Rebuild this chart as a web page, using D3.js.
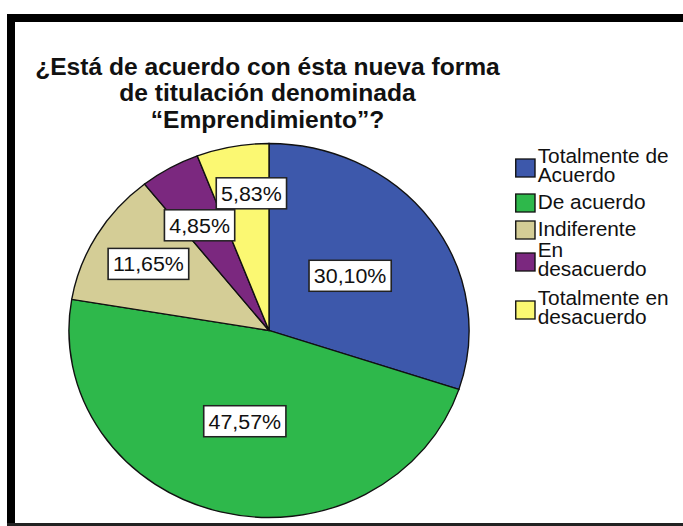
<!DOCTYPE html>
<html>
<head>
<meta charset="utf-8">
<script src="https://cdn.jsdelivr.net/npm/d3@7"></script>
<style>
  html, body { margin: 0; padding: 0; background: #fff; }
  svg { display: block; font-family: "Liberation Sans", Arial, sans-serif; }
</style>
</head>
<body>
<script>
// datos
const categories = ["Totalmente de Acuerdo", "De acuerdo", "Indiferente", "En desacuerdo", "Totalmente en desacuerdo"];
const legendLines = [["Totalmente de", "Acuerdo"], ["De acuerdo"], ["Indiferente"], ["En", "desacuerdo"], ["Totalmente en", "desacuerdo"]];
const percents = [30.10, 47.57, 11.65, 4.85, 5.83];
const colors = ["#3d58ab", "#2eb84b", "#d4cd96", "#7b287f", "#fbf872"];
const titleLines = ["¿Está de acuerdo con ésta nueva forma", "de titulación denominada", "“Emprendimiento”?"];

const width = 683;
const height = 526;
const sx = 1.07; // la imagen original está estirada en horizontal

const svg = d3.select("body")
    .append("svg")
    .attr("width", width)
    .attr("height", height);

// marco negro
svg.append("rect").attr("x", 0).attr("y", 0).attr("width", width).attr("height", height).attr("fill", "#fff");
svg.append("rect").attr("x", 7).attr("y", 14).attr("width", width).attr("height", 8).attr("fill", "#000");
svg.append("rect").attr("x", 7).attr("y", 14).attr("width", 8).attr("height", 512).attr("fill", "#000");
svg.append("rect").attr("x", 7).attr("y", 523).attr("width", width).attr("height", 3).attr("fill", "#222");

const g = svg.append("g").attr("transform", `scale(${sx},1)`);

// título
g.append("text")
    .attr("x", 250)
    .attr("text-anchor", "middle")
    .attr("font-size", 23)
    .attr("font-weight", "bold")
    .attr("fill", "#111")
    .selectAll("tspan")
    .data(titleLines)
    .enter().append("tspan")
    .attr("x", 250)
    .attr("y", (d, i) => 75 + i * 26.5)
    .text(d => d);

// tarta
const cx = 251.4, cy = 330.5, radius = 187;
const pie = d3.pie().sort(null).value(d => d.value);
const arcs = pie(categories.map((c, i) => ({ name: c, value: percents[i], color: colors[i] })));
const arc = d3.arc().innerRadius(0).outerRadius(radius);

const pieG = g.append("g").attr("transform", `translate(${cx},${cy})`);

pieG.selectAll("path")
    .data(arcs)
    .enter().append("path")
    .attr("d", arc)
    .attr("fill", d => d.data.color)
    .attr("stroke", "#111")
    .attr("stroke-width", 1.3);

// etiquetas: las porciones grandes al centro, las pequeñas más afuera
const labelArcBig = d3.arc().innerRadius(0).outerRadius(radius);
const labelArcSmall = d3.arc().innerRadius(radius * 0.7).outerRadius(radius * 0.7);
const fmt = v => v.toFixed(2).replace(".", ",") + "%";

const boxH = 31;
const labels = arcs.map(d => {
    const p = d.data.value > 20 ? labelArcBig.centroid(d) : labelArcSmall.centroid(d);
    return { d, x: p[0], y: p[1], text: fmt(d.data.value) };
});

const labelG = pieG.selectAll(".label")
    .data(labels)
    .enter().append("g")
    .attr("class", "label");

labelG.append("text")
    .attr("text-anchor", "middle")
    .attr("font-size", 20)
    .attr("fill", "#111")
    .text(d => d.text);

labelG.each(function (d) {
    d.w = this.querySelector("text").getComputedTextLength() + 9;
});

// separar etiquetas que se pisan (la de abajo baja, la de arriba sube y se corre a la derecha)
for (let k = 0; k < 20; k++) {
    for (let i = 0; i < labels.length; i++) {
        for (let j = i + 1; j < labels.length; j++) {
            const a = labels[i], b = labels[j];
            const ox = (a.w + b.w) / 2 - Math.abs(a.x - b.x);
            const oy = boxH - Math.abs(a.y - b.y);
            if (ox > 0 && oy > 0) {
                const s = a.y < b.y ? -1 : 1;
                a.y += s * (oy / 2 + 0.5);
                b.y -= s * (oy / 2 + 0.5);
                const upper = a.y < b.y ? a : b;
                upper.x += ox * 0.3;
            }
        }
    }
}

labelG.attr("transform", d => `translate(${d.x},${d.y})`);

labelG.insert("rect", "text")
    .attr("x", d => -d.w / 2)
    .attr("y", -boxH / 2)
    .attr("width", d => d.w)
    .attr("height", boxH)
    .attr("fill", "#fff")
    .attr("stroke", "#222")
    .attr("stroke-width", 1.5);

labelG.select("text").attr("y", 7.5);

// leyenda
const legendX = 482;
const legendY = [158, 195, 222, 252, 300];
const legend = g.selectAll(".legend")
    .data(categories)
    .enter().append("g")
    .attr("class", "legend")
    .attr("transform", (d, i) => `translate(${legendX},${legendY[i]})`);

legend.append("rect")
    .attr("width", 18)
    .attr("height", 18)
    .attr("y", (d, i) => legendLines[i].length > 1 ? 1 : -1)
    .attr("fill", (d, i) => colors[i])
    .attr("stroke", "#111")
    .attr("stroke-width", 1.3);

legend.append("text")
    .attr("font-size", 19.5)
    .attr("fill", "#111")
    .selectAll("tspan")
    .data((d, i) => legendLines[i])
    .enter().append("tspan")
    .attr("x", 20.5)
    .attr("y", (d, i, n) => (n.length > 1 ? 5 : 14) + i * 19.5)
    .text(d => d);
</script>
</body>
</html>
